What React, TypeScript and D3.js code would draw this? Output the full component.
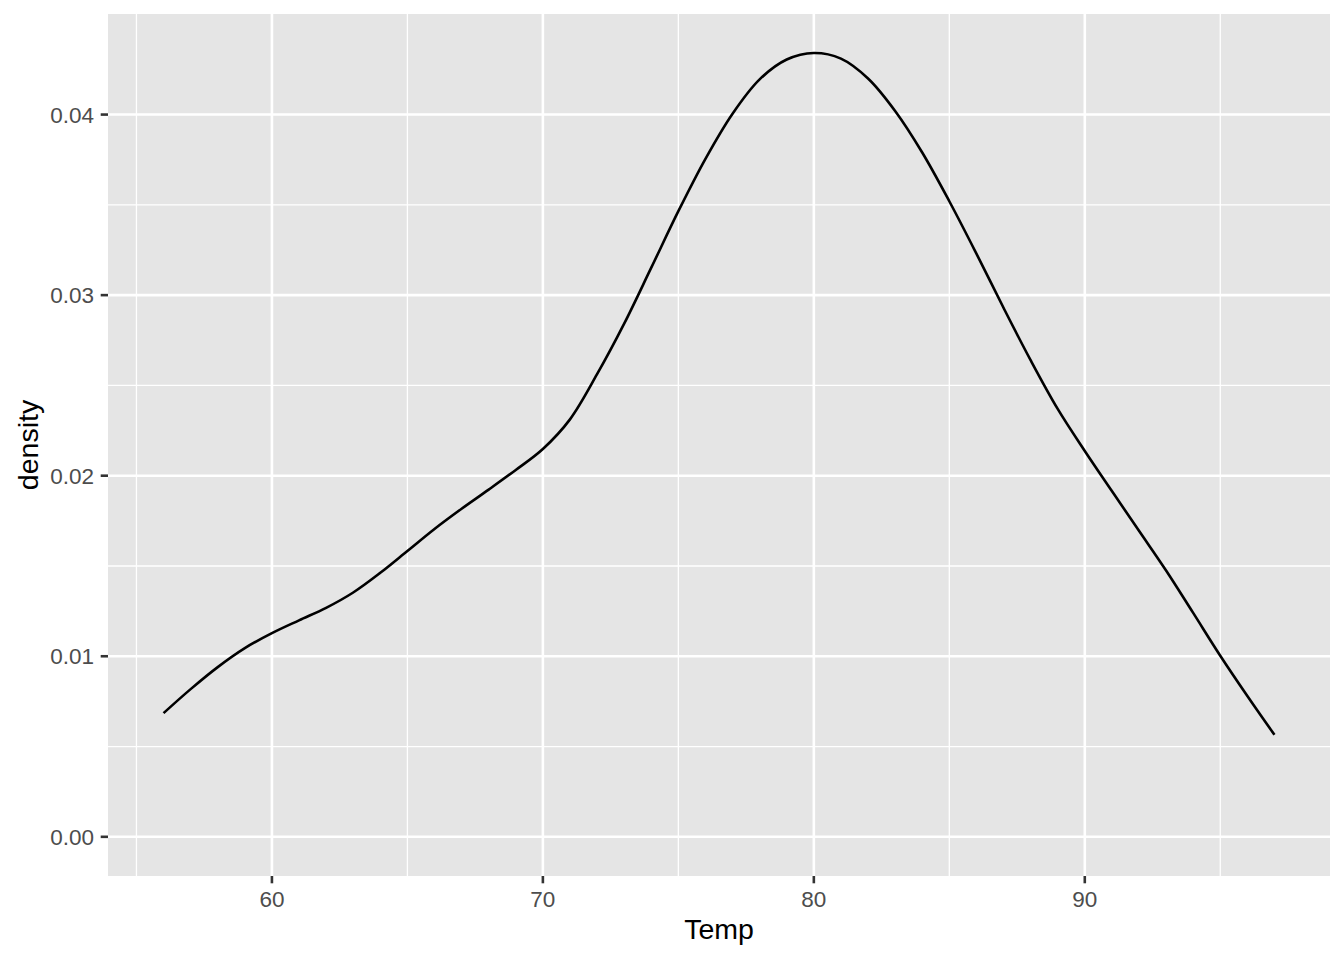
import React from "react";
import * as d3 from "d3";

const tempValues = [56, 57, 58, 59, 60, 61, 62, 63, 64, 65, 66, 67, 68, 69, 70, 71, 72, 73, 74, 75, 76, 77, 78, 79, 80, 81, 82, 83, 84, 85, 86, 87, 88, 89, 90, 91, 92, 93, 94, 95, 96, 97];
const densityValues = [0.00685, 0.00818, 0.0094, 0.01045, 0.01128, 0.01199, 0.01268, 0.01353, 0.01462, 0.01583, 0.01705, 0.01817, 0.01923, 0.02032, 0.02148, 0.02312, 0.02562, 0.02842, 0.03152, 0.03465, 0.03755, 0.04005, 0.04195, 0.04305, 0.04341, 0.0431, 0.042, 0.0402, 0.0379, 0.0352, 0.0323, 0.0293, 0.0264, 0.0237, 0.02137, 0.01915, 0.01695, 0.01475, 0.0124, 0.01003, 0.0078, 0.00565];
const xTicks = [60, 70, 80, 90];
const xMinor = [55, 65, 75, 85, 95];
const yTicks = [0, 0.01, 0.02, 0.03, 0.04];
const yMinor = [0.005, 0.015, 0.025, 0.035];

export default function App() {
  const W = 1344, H = 960;
  const left = 108, right = 1330, top = 14, bottom = 876;
  const x = d3.scaleLinear().domain([53.95, 99.05]).range([left, right]);
  const y = d3.scaleLinear().domain([-0.00217, 0.04557]).range([bottom, top]);
  const pts = tempValues.map((t, i) => [t, densityValues[i]] as [number, number]);
  const line = d3.line<[number, number]>().x(d => x(d[0])).y(d => y(d[1])).curve(d3.curveCatmullRom.alpha(0.5));
  const font = "'Liberation Sans', Arial, Helvetica, sans-serif";
  const major = 2.6, minor = 1.3;
  return (
    <svg width={W} height={H} style={{ position: "absolute", left: 0, top: 0, background: "#fff" }} fontFamily={font}>
      <rect x={left} y={top} width={right - left} height={bottom - top} fill="#e5e5e5" />
      {yMinor.map(v => <line key={"ym" + v} x1={left} x2={right} y1={y(v)} y2={y(v)} stroke="#fff" strokeWidth={minor} />)}
      {xMinor.map(v => <line key={"xm" + v} x1={x(v)} x2={x(v)} y1={top} y2={bottom} stroke="#fff" strokeWidth={minor} />)}
      {yTicks.map(v => <line key={"y" + v} x1={left} x2={right} y1={y(v)} y2={y(v)} stroke="#fff" strokeWidth={major} />)}
      {xTicks.map(v => <line key={"x" + v} x1={x(v)} x2={x(v)} y1={top} y2={bottom} stroke="#fff" strokeWidth={major} />)}
      <path d={line(pts) || ""} fill="none" stroke="#000" strokeWidth={2.6} strokeLinejoin="round" strokeLinecap="butt" />
      {yTicks.map(v => (
        <g key={"yt" + v}>
          <line x1={left - 7.3} x2={left} y1={y(v)} y2={y(v)} stroke="#333" strokeWidth={major} />
          <text x={94} y={y(v)} dy="0.36em" textAnchor="end" fontSize={22.5} fill="#4d4d4d">{d3.format(".2f")(v)}</text>
        </g>
      ))}
      {xTicks.map(v => (
        <g key={"xt" + v}>
          <line x1={x(v)} x2={x(v)} y1={bottom} y2={bottom + 7.3} stroke="#333" strokeWidth={major} />
          <text x={x(v)} y={907} textAnchor="middle" fontSize={22.5} fill="#4d4d4d">{v}</text>
        </g>
      ))}
      <text x={(left + right) / 2} y={939} textAnchor="middle" fontSize={28.5} fill="#000">Temp</text>
      <text transform={`translate(38, ${(top + bottom) / 2}) rotate(-90)`} textAnchor="middle" fontSize={28.5} fill="#000">density</text>
    </svg>
  );
}
